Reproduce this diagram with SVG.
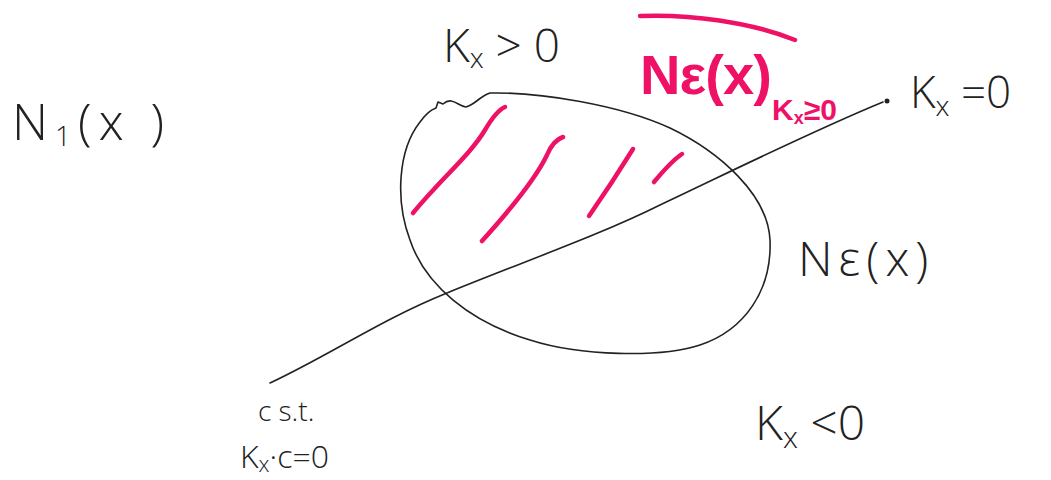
<svg xmlns="http://www.w3.org/2000/svg" width="1051" height="480" viewBox="0 0 1051 480">
<style>
.ink{fill:none;stroke:#222;stroke-width:1.6;stroke-linecap:round;stroke-linejoin:round}
.pk{fill:none;stroke:#ee1166;stroke-width:4.5;stroke-linecap:round;stroke-linejoin:round}
.t{font-family:"Open Sans","Lato","Liberation Sans",sans-serif;font-weight:300;fill:#222}
.tp{font-family:"Liberation Sans","Open Sans",sans-serif;font-weight:bold;fill:#ee1166}
</style>
<rect width="1051" height="480" fill="#fff"/>
<g id="neighborhood">
<path class="ink" d="M490,93 C540,92 620,105 670,128 C720,152 768,195 770,240 C772,290 745,330 700,345 C660,358 580,356 530,340 C470,322 425,285 410,240 C395,200 398,150 420,122 C425,115 430,110 436,108 L438,102 L443,104 C452,96 458,106 466,107 C476,104 480,96 490,93 Z"/>
</g>
<g id="connectors">
<path class="ink" d="M270,383 C330,355 380,320 447,293 C520,263 600,235 660,205 C730,172 810,132 883,102"/>
<circle cx="887" cy="101" r="2.5" fill="#222"/>
</g>
<g id="hatching">
<path class="pk" d="M413,213 C440,180 470,155 485,130 C492,118 498,110 505,107"/>
<path class="pk" d="M482,241 C510,210 535,180 547,155 C552,143 557,139 563,137"/>
<path class="pk" d="M589,216 C605,193 620,170 633,149"/>
<path class="pk" d="M654,182 C664,170 673,160 682,154"/>
</g>
<g id="label-n1">
<text class="t" x="12" y="140" font-size="50" letter-spacing="7">N<tspan font-size="28" dy="6">1</tspan><tspan dy="-6">(x )</tspan></text>
</g>
<g id="label-kpos">
<text class="t" x="443" y="62" font-size="46">K<tspan font-size="28" dy="6">x</tspan><tspan dy="-6"> &gt; 0</tspan></text>
</g>
<g id="label-closure">
<path class="pk" d="M640,16 C690,14 750,22 795,40"/>
<text class="tp" x="640" y="94" font-size="56" textLength="132" lengthAdjust="spacing">Nε(x)</text>
<text class="tp" x="772" y="120" font-size="30">K<tspan font-size="18" dy="4">x</tspan><tspan dy="-4">≥0</tspan></text>
</g>
<g id="label-kzero">
<text class="t" x="910" y="108" font-size="44">K<tspan font-size="28" dy="8">x</tspan><tspan dy="-8"> =0</tspan></text>
</g>
<g id="label-neps">
<text class="t" x="798" y="276" font-size="48" letter-spacing="6">Nε(x)</text>
</g>
<g id="label-c">
<text class="t" x="258" y="421" font-size="28">c s.t.</text>
<text class="t" x="240" y="468" font-size="32">K<tspan font-size="22" dy="4">x</tspan><tspan dy="-4">·c=0</tspan></text>
</g>
<g id="label-kneg">
<text class="t" x="755" y="440" font-size="48">K<tspan font-size="30" dy="8">x</tspan><tspan dy="-8"> &lt;0</tspan></text>
</g>
</svg>
